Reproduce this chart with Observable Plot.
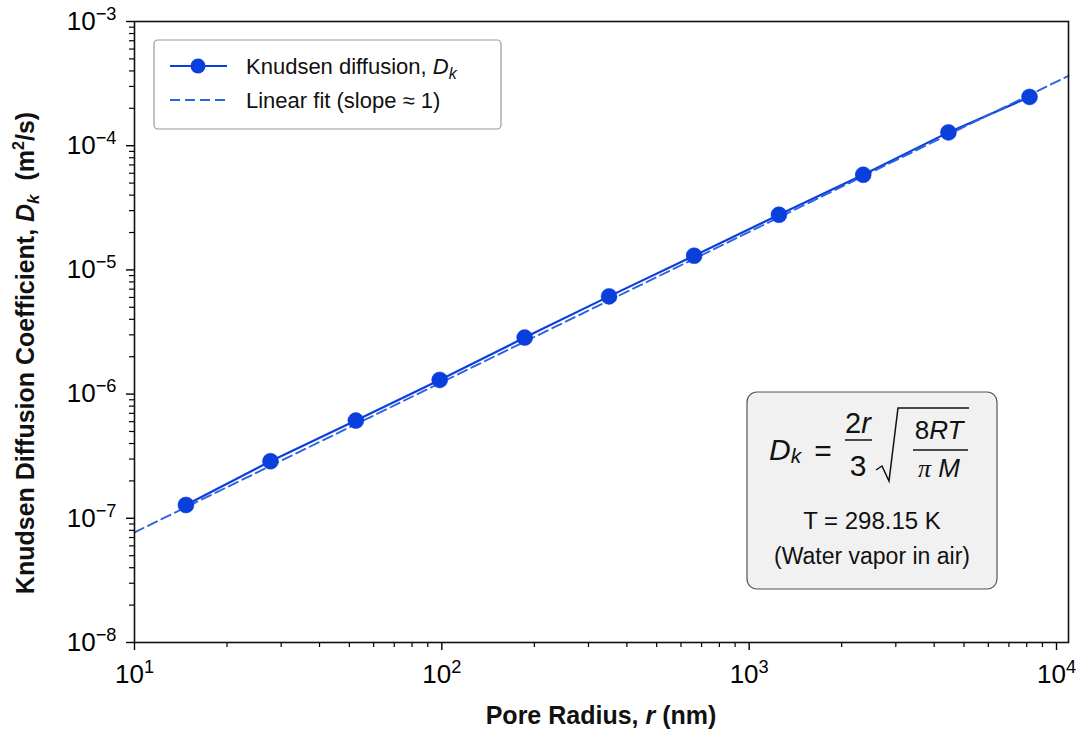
<!DOCTYPE html>
<html><head><meta charset="utf-8">
<script src="https://cdn.jsdelivr.net/npm/d3@7"></script>
<script src="https://cdn.jsdelivr.net/npm/@observablehq/plot@0.6"></script>
<style>html,body{margin:0;padding:0;background:#fff;} #chart svg{display:block;overflow:visible;}</style>
</head><body><div id="chart"></div>
<script>
// ---- data ----
const poreRadius = [14.7, 27.7, 52.5, 98.4, 186, 350, 662, 1250, 2350, 4450, 8170];          // nm
const knudsenD   = [1.28e-7, 2.88e-7, 6.12e-7, 1.30e-6, 2.85e-6, 6.12e-6, 1.30e-5, 2.78e-5, 5.83e-5, 1.28e-4, 2.47e-4]; // m2/s
const fitRadius  = [10, 10940];
const fitD       = [7.7e-8, 3.65e-4];
const xDomain = [10, 10940];
const yDomain = [1e-8, 1e-3];
const xMajorTicks = [10, 100, 1000, 10000];
const yMajorTicks = [1e-8, 1e-7, 1e-6, 1e-5, 1e-4, 1e-3];
const legendLabels = ["Knudsen diffusion, ", "Linear fit (slope \u2248 1)"];
const boxLines = ["T = 298.15 K", "(Water vapor in air)"];

const BLUE = "#0a3fdc";
const DASH_BLUE = "#2f62e0";
const FONT = "'Liberation Sans', Arial, Helvetica, sans-serif";

const isPow = t => Math.abs(Math.log10(t) - Math.round(Math.log10(t))) < 1e-9;
const xMinor = d3.scaleLog().domain(xDomain).ticks().filter(t => !isPow(t));
const yMinor = d3.scaleLog().domain(yDomain).ticks().filter(t => !isPow(t));
const powFmt = d => "10^" + Math.round(Math.log10(d));

const data = poreRadius.map((r, i) => ({r, D: knudsenD[i]}));
const fit = fitRadius.map((r, i) => ({r, D: fitD[i]}));

const svg = Plot.plot({
  width: 1088, height: 733,
  marginLeft: 134, marginRight: 20, marginTop: 21, marginBottom: 91,
  style: {fontFamily: FONT, background: "#fff", color: "#000"},
  x: {type: "log", domain: xDomain},
  y: {type: "log", domain: yDomain},
  marks: [
    Plot.axisX(xMinor, {tickSize: 5, tickFormat: () => "", label: null, strokeWidth: 1.2}),
    Plot.axisY(yMinor, {tickSize: 5, tickFormat: () => "", label: null, strokeWidth: 1.2}),
    Plot.axisX(xMajorTicks, {tickSize: 8, tickPadding: 14, tickFormat: powFmt, label: null, fontSize: 26, strokeWidth: 1.4}),
    Plot.axisY(yMajorTicks, {tickSize: 8, tickPadding: 10, tickFormat: powFmt, label: null, fontSize: 26, strokeWidth: 1.4}),
    Plot.line(data, {x: "r", y: "D", stroke: BLUE, strokeWidth: 2.2}),
    Plot.line(fit, {x: "r", y: "D", stroke: DASH_BLUE, strokeWidth: 1.9, strokeDasharray: "10,5"}),
    Plot.dot(data, {x: "r", y: "D", r: 8, fill: BLUE, stroke: BLUE, strokeWidth: 0.5}),
    Plot.frame({stroke: "#111", strokeWidth: 1.6})
  ]
});
document.getElementById("chart").appendChild(svg);

const S = d3.select(svg);

// superscript exponents in tick labels
S.selectAll("text").each(function() {
  const t = this.textContent;
  const m = /^10\^(-?\d+)$/.exec(t);
  if (!m) return;
  const sel = d3.select(this);
  sel.text("10");
  sel.append("tspan").attr("font-size", "0.7em").attr("dy", "-0.55em")
     .text(m[1].replace("-", "\u2212"));
});

// helper: rich text
function richText(parent, x, y, parts, attrs) {
  const t = parent.append("text").attr("x", x).attr("y", y).attr("font-family", FONT)
    .attr("text-anchor", "start").attr("fill", "#111");
  for (const k in attrs) t.attr(k, attrs[k]);
  let shift = 0;
  for (const p of parts) {
    const sp = t.append("tspan").text(p.t);
    if (p.italic) sp.attr("font-style", "italic");
    if (p.size) sp.attr("font-size", p.size);
    if (p.family) sp.attr("font-family", p.family);
    const target = p.dy || 0;
    if (target !== shift) { sp.attr("dy", target - shift); shift = target; }
  }
  return t;
}

// axis titles
richText(S, 601, 724, [{t: "Pore Radius, "}, {t: "r", italic: true}, {t: " (nm)"}],
  {"font-size": 25, "font-weight": "bold", "text-anchor": "middle"});
const yt = S.append("g").attr("transform", "translate(34,353) rotate(-90)");
richText(yt, 0, 0, [{t: "Knudsen Diffusion Coefficient, "}, {t: "D", italic: true},
  {t: "k", italic: true, size: 17, dy: 5}, {t: "  (m"}, {t: "2", size: 16, dy: -10}, {t: "/s)"}],
  {"font-size": 25, "font-weight": "bold", "text-anchor": "middle"});

// legend
const lg = S.append("g");
lg.append("rect").attr("x", 154).attr("y", 40).attr("width", 347).attr("height", 89)
  .attr("rx", 4).attr("fill", "#fff").attr("stroke", "#999").attr("stroke-width", 1.2);
lg.append("line").attr("x1", 170).attr("x2", 227).attr("y1", 66).attr("y2", 66)
  .attr("stroke", BLUE).attr("stroke-width", 2.2);
lg.append("circle").attr("cx", 198).attr("cy", 66).attr("r", 7.5).attr("fill", BLUE);
richText(lg, 246, 74, [{t: legendLabels[0]}, {t: "D", italic: true}, {t: "k", italic: true, size: 16, dy: 5}],
  {"font-size": 22});
lg.append("line").attr("x1", 170).attr("x2", 227).attr("y1", 100).attr("y2", 100)
  .attr("stroke", DASH_BLUE).attr("stroke-width", 1.9).attr("stroke-dasharray", "10,5");
richText(lg, 246, 108, [{t: legendLabels[1]}], {"font-size": 22});

// formula box
const fb = S.append("g");
fb.append("rect").attr("x", 747).attr("y", 392).attr("width", 250).attr("height", 197)
  .attr("rx", 10).attr("fill", "#f1f1f1").attr("stroke", "#555").attr("stroke-width", 1.2);
richText(fb, 769, 460, [{t: "D", italic: true}, {t: "k", italic: true, size: 21, dy: 3}], {"font-size": 30});
richText(fb, 823, 461, [{t: "="}], {"font-size": 30, "text-anchor": "middle"});
richText(fb, 858, 433, [{t: "2"}, {t: "r", italic: true}], {"font-size": 29, "text-anchor": "middle"});
fb.append("line").attr("x1", 845).attr("x2", 872).attr("y1", 440).attr("y2", 440).attr("stroke", "#111").attr("stroke-width", 1.5);
richText(fb, 858, 476, [{t: "3"}], {"font-size": 30, "text-anchor": "middle"});
fb.append("path").attr("d", "M876,470 L882,466 L889,481 L898,408 L969,408")
  .attr("fill", "none").attr("stroke", "#111").attr("stroke-width", 1.5);
richText(fb, 939, 439, [{t: "8"}, {t: "RT", italic: true}], {"font-size": 26, "text-anchor": "middle"});
fb.append("line").attr("x1", 913).attr("x2", 968).attr("y1", 450).attr("y2", 450).attr("stroke", "#111").attr("stroke-width", 1.5);
richText(fb, 939, 477, [{t: "\u03c0", italic: true, family: "'Liberation Serif', serif"}, {t: " M", italic: true}], {"font-size": 26, "text-anchor": "middle"});
richText(fb, 872, 529, [{t: boxLines[0]}], {"font-size": 24, "text-anchor": "middle"});
richText(fb, 872, 564, [{t: boxLines[1]}], {"font-size": 23, "text-anchor": "middle"});
</script>
</body></html>
